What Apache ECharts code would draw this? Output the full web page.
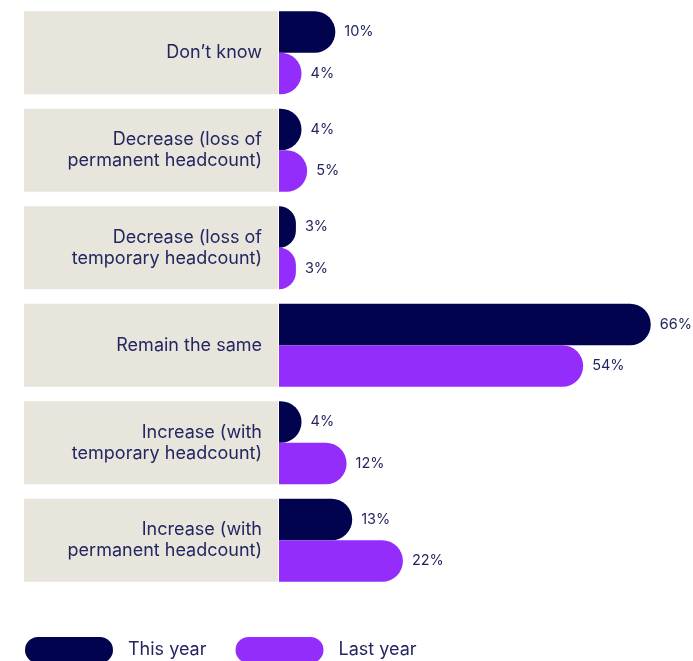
<!DOCTYPE html>
<html>
<head>
<meta charset="utf-8">
<script src="https://cdn.jsdelivr.net/npm/echarts@6/dist/echarts.min.js"></script>
<style>
  html, body { margin: 0; padding: 0; background: #ffffff; }
  #chart { width: 693px; height: 661px; }
</style>
</head>
<body>
<div id="chart"></div>
<script>
// Headcount outlook, share of respondents (%)
const categories = [
  'Don\u2019t know',
  'Decrease (loss of\npermanent headcount)',
  'Decrease (loss of\ntemporary headcount)',
  'Remain the same',
  'Increase (with\ntemporary headcount)',
  'Increase (with\npermanent headcount)'
];
const seriesNames = ['This year', 'Last year'];
const thisYear = [10, 4, 3, 66, 4, 13];
const lastYear = [4, 5, 3, 54, 12, 22];

const NAVY = '#02034f';
const PURPLE = '#942cfc';
const TEXT = '#23265f';
const FONT = 'Inter, "Noto Sans", sans-serif';

const capsule = 'path://M13,0 H75 A13,13 0 0 1 75,26 H13 A13,13 0 0 1 13,0 Z';

const chart = echarts.init(document.getElementById('chart'), null, { renderer: 'canvas' });

function barSeries(name, values, color) {
  return {
    name: name,
    type: 'bar',
    data: values,
    barWidth: 41.5,
    barGap: '0%',
    itemStyle: { color: color, borderRadius: [0, 21, 21, 0] },
    label: {
      show: true,
      position: 'right',
      distance: 9,
      formatter: '{c}%',
      fontSize: 14.5,
      fontFamily: FONT,
      color: TEXT
    },
    emphasis: { disabled: true }
  };
}

chart.setOption({
  animation: false,
  grid: { left: 279, top: 4, height: 585, right: 0 },
  xAxis: { type: 'value', min: 0, max: 73.5, show: false },
  yAxis: {
    type: 'category',
    inverse: true,
    data: categories,
    axisLine: { show: false },
    axisTick: { show: false },
    splitLine: { show: false },
    axisLabel: {
      margin: 1,
      width: 238,
      height: 83,
      padding: [0, 16, 0, 0],
      backgroundColor: '#e8e5dd',
      align: 'right',
      verticalAlign: 'middle',
      lineHeight: 21,
      fontSize: 18,
      fontFamily: FONT,
      color: TEXT
    }
  },
  legend: {
    data: seriesNames.map(n => ({ name: n, icon: capsule })),
    left: 25,
    top: 637,
    padding: 0,
    itemWidth: 88,
    itemHeight: 26,
    itemGap: 29,
    selectedMode: false,
    textStyle: { fontSize: 18, fontFamily: FONT, color: TEXT, padding: [0, 0, 0, 10] }
  },
  series: [
    barSeries(seriesNames[0], thisYear, NAVY),
    barSeries(seriesNames[1], lastYear, PURPLE)
  ]
});
</script>
</body>
</html>
